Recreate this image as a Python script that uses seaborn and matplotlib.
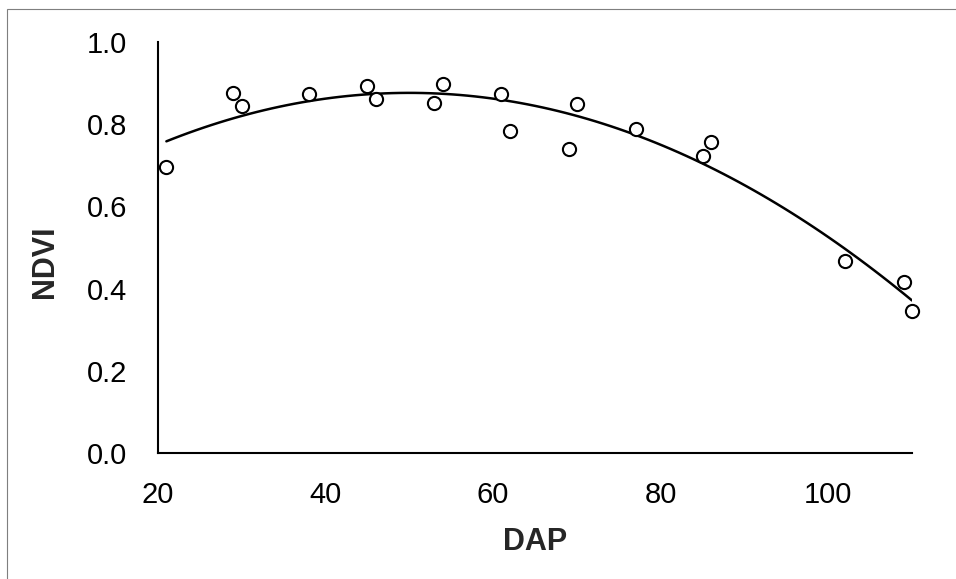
import numpy as np
import pandas as pd
import matplotlib
matplotlib.use("Agg")
import matplotlib.pyplot as plt
from matplotlib.patches import Rectangle
import seaborn as sns

# days after planting and measured NDVI
dap = [21, 29, 30, 38, 45, 46, 53, 54, 61, 62, 69, 70, 77, 85, 86, 102, 109, 110]
ndvi = [0.695, 0.875, 0.844, 0.873, 0.893, 0.861, 0.852, 0.898, 0.873, 0.784,
        0.740, 0.849, 0.788, 0.723, 0.756, 0.468, 0.417, 0.345]

x_ticks = [20, 40, 60, 80, 100]
y_ticks = [0.0, 0.2, 0.4, 0.6, 0.8, 1.0]

df = pd.DataFrame({"DAP": dap, "NDVI": ndvi})

sns.set_style("white")
plt.rcParams['font.family'] = ['Liberation Sans', 'DejaVu Sans']

fig = plt.figure(figsize=(9.56, 5.79), dpi=100)
ax = fig.add_axes([158 / 956, 1 - 453 / 579, (912 - 158) / 956, (453 - 42) / 579])

# quadratic trend line (like an Excel polynomial trendline)
sns.regplot(data=df, x="DAP", y="NDVI", order=2, ci=None, scatter=False,
            line_kws={"color": "black", "lw": 1.8}, ax=ax)
sns.scatterplot(data=df, x="DAP", y="NDVI", marker="o", s=90,
                facecolor="white", edgecolor="black", linewidth=1.5, ax=ax,
                zorder=3, clip_on=False)

ax.set_xlim(20, 110)
ax.set_ylim(0, 1.0)
ax.set_xticks(x_ticks)
ax.set_yticks(y_ticks)
ax.set_yticklabels([f"{v:.1f}" for v in y_ticks])
ax.tick_params(axis="both", length=0, labelsize=21, colors="black")
ax.tick_params(axis="x", pad=20)
ax.tick_params(axis="y", pad=22)

ax.set_xlabel("DAP", fontsize=22, fontweight="bold")
ax.set_ylabel("NDVI", fontsize=22, fontweight="bold")
ax.xaxis.set_label_coords(0.5, -0.18)
ax.yaxis.set_label_coords(-0.13, 0.465)

for side in ["top", "right"]:
    ax.spines[side].set_visible(False)
for side in ["left", "bottom"]:
    ax.spines[side].set_color("black")
    ax.spines[side].set_linewidth(1.5)

# outer chart border, cut off at right and bottom as in the source
fig.patches.append(Rectangle((7 / 956, -0.2), 1.5, 1.2 - 9 / 579, transform=fig.transFigure,
                             fill=False, edgecolor="#7f7f7f", lw=0.8))

fig.savefig("out.png", dpi=100)
